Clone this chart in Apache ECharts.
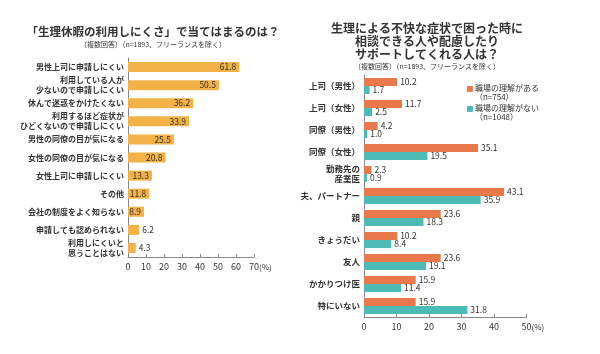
<!DOCTYPE html>
<html>
<head>
<meta charset="utf-8">
<script src="https://cdn.jsdelivr.net/npm/echarts@6/dist/echarts.min.js"></script>
<style>
  html, body { margin: 0; padding: 0; background: #fff; }
  #chart { width: 600px; height: 354px; }
</style>
</head>
<body>
<div id="chart"></div>
<script>
// 左: 生理休暇の利用しにくさ
const leftCategories = [
  "男性上司に申請しにくい",
  "利用している人が\n少ないので申請しにくい",
  "休んで迷惑をかけたくない",
  "利用するほど症状が\nひどくないので申請しにくい",
  "男性の同僚の目が気になる",
  "女性の同僚の目が気になる",
  "女性上司に申請しにくい",
  "その他",
  "会社の制度をよく知らない",
  "申請しても認められない",
  "利用しにくいと\n思うことはない"
];
const leftValues = [61.8, 50.5, 36.2, 33.9, 25.5, 20.8, 13.3, 11.8, 8.9, 6.2, 4.3];

// 右: 相談できる人
const rightCategories = [
  "上司（男性）", "上司（女性）", "同僚（男性）", "同僚（女性）", "勤務先の\n産業医",
  "夫、パートナー", "親", "きょうだい", "友人", "かかりつけ医", "特にいない"
];
const withSupport = [10.2, 11.7, 4.2, 35.1, 2.3, 43.1, 23.6, 10.2, 23.6, 15.9, 15.9];
const withoutSupport = [1.7, 2.5, 1.0, 19.5, 0.9, 35.9, 18.3, 8.4, 19.1, 11.4, 31.8];
const seriesNames = ["職場の理解がある\n（n=754）", "職場の理解がない\n（n=1048）"];

const FONT = "'Noto Sans CJK JP', sans-serif";
const TXT = "#333";

function axisX(gridIndex, max) {
  return {
    type: "value", gridIndex, min: 0, max, interval: 10,
    name: "(%)", nameLocation: "end", nameGap: 5, nameMoveOverlap: false,
    nameTextStyle: { fontSize: 8, color: TXT, fontFamily: FONT, verticalAlign: "top", padding: [6, 0, 0, 0] },
    axisLine: { show: true, lineStyle: { color: "#888", width: 1 } },
    axisTick: { show: true, inside: true, length: 3, lineStyle: { color: "#888" } },
    splitLine: { show: false },
    axisLabel: { fontSize: 9, color: TXT, fontFamily: FONT, margin: 5 }
  };
}

function axisY(gridIndex, data, fontSize) {
  return {
    type: "category", gridIndex, data, inverse: true,
    axisLine: { show: true, lineStyle: { color: "#888", width: 1 } },
    axisTick: { show: false },
    axisLabel: { fontSize, color: TXT, fontFamily: FONT, fontWeight: "bold", margin: 4, lineHeight: fontSize + 2 }
  };
}

const valueLabel = { show: true, fontSize: 8.5, color: TXT, fontFamily: FONT, formatter: (p) => p.value.toFixed(1) };

const chart = echarts.init(document.getElementById("chart"));
chart.setOption({
  animation: false,
  textStyle: { fontFamily: FONT },
  title: [
    {
      text: "「生理休暇の利用しにくさ」で当てはまるのは？",
      subtext: "（複数回答）（n=1893、フリーランスを除く）",
      left: 148, top: 21, textAlign: "center", itemGap: 3,
      textStyle: { fontSize: 11.5, fontWeight: "bold", color: TXT, fontFamily: FONT },
      subtextStyle: { fontSize: 7, color: TXT, fontFamily: FONT }
    },
    {
      text: "生理による不快な症状で困った時に\n相談できる人や配慮したり\nサポートしてくれる人は？",
      subtext: "（複数回答）（n=1893、フリーランスを除く）",
      left: 422, top: 17, textAlign: "center", itemGap: 2,
      textStyle: { fontSize: 12, fontWeight: "bold", color: TXT, fontFamily: FONT, lineHeight: 13 },
      subtextStyle: { fontSize: 7, color: TXT, fontFamily: FONT }
    }
  ],
  legend: {
    data: seriesNames,
    orient: "vertical",
    left: 462, top: 78,
    itemWidth: 6, itemHeight: 13, itemGap: 1,
    // 四角をアイコン枠の上側に寄せる(1行目に揃える)
    icon: "path://M0,0L10,0L10,10L0,10Z M0,22",
    textStyle: { fontSize: 8, color: TXT, fontFamily: FONT, lineHeight: 9.5, padding: [0, 0, 0, -3] }
  },
  grid: [
    { left: 128, top: 58, width: 126, height: 199 },
    { left: 364, top: 75, width: 162.5, height: 242 }
  ],
  xAxis: [axisX(0, 70), axisX(1, 50)],
  yAxis: [axisY(0, leftCategories, 8), axisY(1, rightCategories, 8.5)],
  series: [
    {
      type: "bar", xAxisIndex: 0, yAxisIndex: 0,
      barWidth: 10,
      itemStyle: { color: "#f2b247" },
      data: leftValues.map((v) => ({
        value: v,
        label: { position: v >= 8 ? "insideRight" : "right", distance: 3 }
      })),
      label: valueLabel
    },
    {
      name: seriesNames[0],
      type: "bar", xAxisIndex: 1, yAxisIndex: 1,
      barWidth: 8, barGap: "0%",
      itemStyle: { color: "#e9794b" },
      data: withSupport,
      label: Object.assign({ position: "right", distance: 3 }, valueLabel)
    },
    {
      name: seriesNames[1],
      type: "bar", xAxisIndex: 1, yAxisIndex: 1,
      barWidth: 8, barGap: "0%",
      itemStyle: { color: "#4dbab5" },
      data: withoutSupport,
      label: Object.assign({ position: "right", distance: 3 }, valueLabel)
    }
  ]
});
</script>
</body>
</html>
